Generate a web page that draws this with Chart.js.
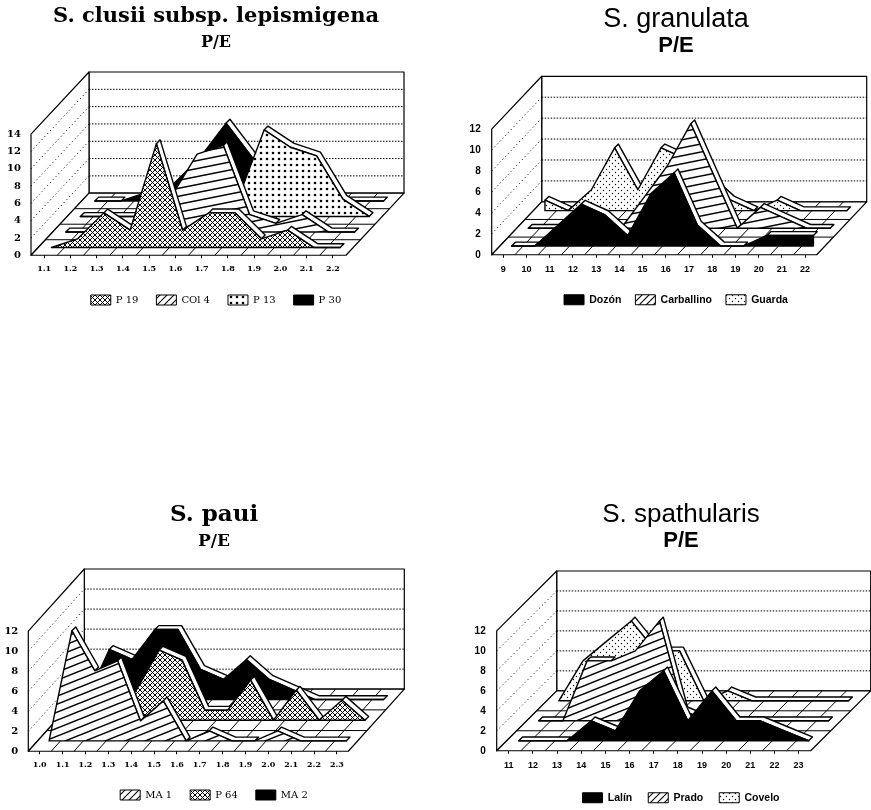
<!DOCTYPE html>
<html>
<head>
<meta charset="utf-8">
<title>P/E</title>
<script src="https://cdn.jsdelivr.net/npm/chart.js@4/dist/chart.umd.min.js"></script>
<style>
    html, body { margin: 0; padding: 0; background: #fff; width: 871px; height: 810px; overflow: hidden; }
    #page { position: relative; width: 871px; height: 810px; overflow: hidden; }
    canvas { position: absolute; }
</style>
</head>
<body>
<div id="page"></div>
<script>
// Values, first series = front row
const clusiiCategories = ['1.1', '1.2', '1.3', '1.4', '1.5', '1.6', '1.7', '1.8', '1.9', '2.0', '2.1', '2.2'];
const clusiiNames = ['P 19', 'COl 4', 'P 13', 'P 30'];
const clusiiP19 = [0, 1, 4, 2, 12, 2, 4, 4, 1, 2, 0, 0];
const clusiiCol4 = [0, 0, 0, 1, 4, 9, 10, 2, 1, 2, 0, 0];
const clusiiP13 = [0, 0, 0, 0, 0, 0, 2, 10, 8, 7, 2, 0];
const clusiiP30 = [0, 0, 1, 2, 5, 9, 5, 3, 1, 0, 0, 0];
const clusiiTicks = [0, 2, 4, 6, 8, 10, 12, 14];

const granulataCategories = ['9', '10', '11', '12', '13', '14', '15', '16', '17', '18', '19', '20', '21', '22'];
const granulataNames = ['Dozón', 'Carballino', 'Guarda'];
const granulataDozon = [0, 0, 2, 4, 3, 1, 5, 7, 2, 0, 0, 1, 1, 1];
const granulataCarballino = [0, 0, 0, 0, 0, 3, 6, 10, 5, 0, 2, 1, 0, 0];
const granulataGuarda = [1, 0, 2, 6, 2, 6, 5, 3, 1, 0, 1, 0, 0, 0];
const granulataTicks = [0, 2, 4, 6, 8, 10, 12];

const pauiCategories = ['1.0', '1.1', '1.2', '1.3', '1.4', '1.5', '1.6', '1.7', '1.8', '1.9', '2.0', '2.1', '2.2', '2.3'];
const pauiNames = ['MA 1', 'P 64', 'MA 2'];
const pauiMa1 = [0, 11, 7, 8, 2, 4, 0, 1, 0, 0, 1, 0, 0, 0];
const pauiP64 = [0, 0, 1, 3, 7, 6, 1, 1, 4, 0, 3, 0, 2, 0];
const pauiMa2 = [0, 5, 4, 7, 7, 3, 2, 4, 2, 1, 0, 0, 0, 0];
const pauiTicks = [0, 2, 4, 6, 8, 10, 12];

const spathCategories = ['11', '12', '13', '14', '15', '16', '17', '18', '19', '20', '21', '22', '23'];
const spathNames = ['Lalín', 'Prado', 'Covelo'];
const spathLalin = [0, 0, 0, 2, 1, 5, 7, 2, 5, 2, 2, 1, 0];
const spathPrado = [0, 0, 6, 6, 7, 10, 1, 0, 0, 0, 0, 0, 0];
const spathCovelo = [0, 4, 6, 8, 5, 5, 0, 1, 0, 0, 0, 0, 0];
const spathTicks = [0, 2, 4, 6, 8, 10, 12];

// Tiles for the fills
function makeTile(w, h, paint) {
    const tile = document.createElement('canvas');
    tile.width = w;
    tile.height = h;
    const ctx = tile.getContext('2d');
    ctx.fillStyle = '#fff';
    ctx.fillRect(0, 0, w, h);
    ctx.strokeStyle = '#000';
    ctx.fillStyle = '#000';
    paint(ctx);
    return document.createElement('canvas').getContext('2d').createPattern(tile, 'repeat');
}

function risingLines(w, h, lineWidth) {
    return makeTile(w, h, ctx => {
        ctx.lineWidth = lineWidth;
        [-h, 0, h].forEach(shift => {
            ctx.beginPath();
            ctx.moveTo(0, h + shift);
            ctx.lineTo(w, shift);
            ctx.stroke();
        });
    });
}

function dotTile(step, radius, staggered) {
    return makeTile(step, step, ctx => {
        const spots = staggered ? [[step / 4, step / 4], [3 * step / 4, 3 * step / 4]] : [[step / 2, step / 2]];
        spots.forEach(s => {
            ctx.beginPath();
            ctx.arc(s[0], s[1], radius, 0, Math.PI * 2);
            ctx.fill();
        });
    });
}

const fills = {
    mesh: makeTile(5, 5, ctx => {
        ctx.lineWidth = 1;
        ctx.beginPath();
        ctx.moveTo(-1, -1); ctx.lineTo(6, 6);
        ctx.moveTo(-1, 6); ctx.lineTo(6, -1);
        ctx.stroke();
    }),
    flatLines: risingLines(40, 8, 1.5),
    slantLines: risingLines(20, 8, 1.5),
    legendLines: risingLines(7, 7, 1.1),
    bigDots: dotTile(6, 1.3, false),
    fineDots: dotTile(6, 0.7, true),
    black: '#000'
};

// Draws closed outlines from the points the library placed for a dataset
const polygonPlugin = {
    id: 'polygon',
    beforeDatasetDraw(chart, args) {
        const ds = chart.data.datasets[args.index];
        if (!ds.closedShape) return;
        const pts = args.meta.data;
        const ctx = chart.ctx;
        ctx.save();
        ctx.beginPath();
        pts.forEach((p, i) => {
            if (i === 0) ctx.moveTo(p.x, p.y);
            else ctx.lineTo(p.x, p.y);
        });
        ctx.closePath();
        ctx.fillStyle = ds.backgroundColor;
        ctx.fill();
        ctx.lineWidth = ds.borderWidth;
        ctx.lineJoin = 'round';
        ctx.strokeStyle = ds.borderColor;
        ctx.stroke();
        ctx.restore();
    }
};

function drawPanel(p) {
    const rows = p.series.length;
    const bands = p.categories.length;
    const top = p.ticks[p.ticks.length - 1];
    const bandW = p.floorWidth / bands;
    const unit = p.wallHeight / top;
    const stepX = p.depthX / rows / bandW;
    const stepY = p.depthY / rows / unit;
    const ribbonX = 3.8 / bandW;
    const ribbonY = 3.8 / unit;

    // Position of a value in the slanted view
    const at = (i, v, row) => ({ x: i + row * stepX, y: v + row * stepY });

    // Page geometry around the plot
    const width = 2 * (p.center - p.left);
    const axisWidth = p.originX - p.left;
    const legendPad = p.legendPad;
    const itemHeight = 10.5;
    const legendTop = p.legendY - legendPad - itemHeight / 2;
    const legendHeight = itemHeight + legendPad + 10;
    const height = legendTop + legendHeight - p.top;
    const titlePadTop = p.titleY - p.top - p.titleSize / 2;
    const subPadTop = p.subY - p.subSize / 2 - (p.titleY + p.titleSize / 2);
    const areaTop = p.subY + p.subSize / 2 + 2 - p.top;

    const canvas = document.createElement('canvas');
    canvas.width = width;
    canvas.height = height;
    canvas.style.left = p.left + 'px';
    canvas.style.top = p.top + 'px';
    canvas.style.width = width + 'px';
    canvas.style.height = height + 'px';
    document.getElementById('page').appendChild(canvas);

    const shape = (data, fill, lineWidth) => ({
        data, closedShape: true, showLine: false, pointRadius: 0,
        backgroundColor: fill, borderColor: '#000', borderWidth: lineWidth
    });
    const line = (data, dash, lineWidth) => ({
        data, showLine: true, pointRadius: 0, fill: false,
        borderColor: '#000', borderWidth: lineWidth, borderDash: dash
    });

    // Painted back to front
    const painted = [];
    painted.push(shape([at(0, 0, rows), at(bands, 0, rows), at(bands, top, rows), at(0, top, rows)], '#fff', 1.2));
    painted.push(shape([at(0, 0, 0), at(0, top, 0), at(0, top, rows), at(0, 0, rows)], '#fff', 1.2));
    painted.push(shape([at(0, 0, 0), at(bands, 0, 0), at(bands, 0, rows), at(0, 0, rows)], '#fff', 1.2));
    p.ticks.slice(1, -1).forEach(v => {
        painted.push(line([at(0, v, 0), at(0, v, rows)], [1, 3], 1));
        painted.push(line([at(0, v, rows), at(bands, v, rows)], [1.5, 1.5], 1));
    });
    for (let i = 1; i < bands; i++) painted.push(line([at(i, 0, 0), at(i, 0, rows)], [], 1));
    for (let r = 1; r < rows; r++) painted.push(line([at(0, 0, r), at(bands, 0, r)], [], 1));

    for (let s = rows - 1; s >= 0; s--) {
        const row = s + 0.5;
        const tops = p.series[s].map((v, i) => at(i + 0.5, v, row));
        // The white edge only shows along flat or falling stretches
        let start = 0;
        while (start < tops.length - 1) {
            if (tops[start + 1].y > tops[start].y) { start++; continue; }
            let end = start + 1;
            while (end < tops.length - 1 && tops[end + 1].y <= tops[end].y) end++;
            const run = tops.slice(start, end + 1);
            const back = run.map(t => ({ x: t.x + ribbonX, y: t.y + ribbonY })).reverse();
            painted.push(shape(run.concat(back), '#fff', 1.4));
            start = end;
        }
        const first = at(0.5, 0, row);
        const last = at(bands - 0.5, 0, row);
        painted.push(shape([first].concat(tops, [last]), fills[p.fills[s]], 1.4));
    }

    // Chart.js paints the lowest order last, so it ends up in front
    const datasets = painted.map((d, k) => Object.assign(d, { order: painted.length - k, clip: false }));

    new Chart(canvas, {
        type: 'scatter',
        data: { datasets },
        plugins: [polygonPlugin],
        options: {
            responsive: false,
            animation: false,
            events: [],
            layout: { padding: 0 },
            scales: {
                x: {
                    type: 'linear',
                    min: 0,
                    max: (width - axisWidth) / bandW,
                    border: { display: false },
                    grid: { drawOnChartArea: false, drawTicks: true, tickLength: 3, color: '#000' },
                    afterBuildTicks: scale => { scale.ticks = p.categories.map((c, i) => ({ value: i + 0.5 })); },
                    afterFit: scale => { scale.height = legendTop - p.originY; },
                    ticks: {
                        autoSkip: false,
                        maxRotation: 0,
                        padding: p.xLabelPad,
                        color: '#000',
                        font: p.xFont,
                        callback: v => p.categories[Math.floor(v)]
                    }
                },
                y: {
                    type: 'linear',
                    min: 0,
                    max: (p.originY - p.top - areaTop) / unit,
                    border: { display: false },
                    grid: { display: false },
                    afterBuildTicks: scale => { scale.ticks = p.ticks.map(v => ({ value: v })); },
                    afterFit: scale => { scale.width = axisWidth; },
                    ticks: { padding: p.yLabelPad, color: '#000', font: p.yFont, callback: v => String(v) }
                }
            },
            plugins: {
                tooltip: { enabled: false },
                title: {
                    display: true,
                    text: p.title,
                    color: '#000',
                    font: { family: p.family, size: p.titleSize, weight: p.titleWeight, lineHeight: 1 },
                    padding: { top: titlePadTop, bottom: 0 }
                },
                subtitle: {
                    display: true,
                    text: 'P/E',
                    color: '#000',
                    font: { family: p.family, size: p.subSize, weight: p.subWeight, lineHeight: 1 },
                    padding: { top: subPadTop, bottom: 2 }
                },
                legend: {
                    display: true,
                    position: 'bottom',
                    labels: {
                        boxWidth: 20,
                        boxHeight: 10,
                        padding: legendPad,
                        color: '#000',
                        font: p.legendFont,
                        generateLabels: () => p.names.map((n, i) => ({
                            text: n,
                            fillStyle: p.fills[i].endsWith('Lines') ? fills.legendLines : fills[p.fills[i]],
                            strokeStyle: '#000',
                            lineWidth: 1,
                            hidden: false,
                            datasetIndex: i
                        }))
                    }
                }
            }
        }
    });
}

const serifFamily = '"DejaVu Serif"';
const sansFamily = '"Liberation Sans"';

drawPanel({
    title: 'S. clusii subsp. lepismigena', family: serifFamily, titleSize: 21, titleWeight: 'bold', subSize: 16, subWeight: 'bold',
    xFont: { family: serifFamily, size: 8, weight: 'bold' }, yFont: { family: serifFamily, size: 10, weight: 'bold' },
    legendFont: { family: serifFamily, size: 10 },
    categories: clusiiCategories, names: clusiiNames, ticks: clusiiTicks,
    series: [clusiiP19, clusiiCol4, clusiiP13, clusiiP30], fills: ['mesh', 'flatLines', 'bigDots', 'black'],
    center: 216, left: 0, top: 0, originX: 31, originY: 255, floorWidth: 315, wallHeight: 121, depthX: 58, depthY: 62,
    titleY: 17, subY: 43, legendY: 300, legendPad: 18, xLabelPad: 6, yLabelPad: 2
});

drawPanel({
    title: 'S. granulata', family: sansFamily, titleSize: 27, titleWeight: 'normal', subSize: 22, subWeight: 'bold',
    xFont: { family: sansFamily, size: 9, weight: 'bold' }, yFont: { family: sansFamily, size: 10, weight: 'bold' },
    legendFont: { family: sansFamily, size: 10.5, weight: 'bold' },
    categories: granulataCategories, names: granulataNames, ticks: granulataTicks,
    series: [granulataDozon, granulataCarballino, granulataGuarda], fills: ['black', 'flatLines', 'fineDots'],
    center: 676, left: 461, top: 0, originX: 491.7, originY: 255, floorWidth: 325, wallHeight: 125.7, depthX: 50, depthY: 53,
    titleY: 20, subY: 46, legendY: 300, legendPad: 14, xLabelPad: 6, yLabelPad: 3
});

drawPanel({
    title: 'S. paui', family: serifFamily, titleSize: 23, titleWeight: 'bold', subSize: 17, subWeight: 'bold',
    xFont: { family: serifFamily, size: 8, weight: 'bold' }, yFont: { family: serifFamily, size: 10, weight: 'bold' },
    legendFont: { family: serifFamily, size: 10 },
    categories: pauiCategories, names: pauiNames, ticks: pauiTicks,
    series: [pauiMa1, pauiP64, pauiMa2], fills: ['slantLines', 'mesh', 'black'],
    center: 214, left: 0, top: 495, originX: 28.3, originY: 751, floorWidth: 320, wallHeight: 120, depthX: 56, depthY: 62,
    titleY: 515, subY: 542, legendY: 795, legendPad: 18, xLabelPad: 6, yLabelPad: 2
});

drawPanel({
    title: 'S. spathularis', family: sansFamily, titleSize: 26, titleWeight: 'normal', subSize: 22, subWeight: 'bold',
    xFont: { family: sansFamily, size: 9, weight: 'bold' }, yFont: { family: sansFamily, size: 10, weight: 'bold' },
    legendFont: { family: sansFamily, size: 10.5, weight: 'bold' },
    categories: spathCategories, names: spathNames, ticks: spathTicks,
    series: [spathLalin, spathPrado, spathCovelo], fills: ['black', 'slantLines', 'fineDots'],
    center: 681, left: 461, top: 495, originX: 496.7, originY: 751, floorWidth: 314, wallHeight: 120, depthX: 60, depthY: 60,
    titleY: 515, subY: 541, legendY: 798, legendPad: 16, xLabelPad: 6, yLabelPad: 3
});
</script>
</body>
</html>
